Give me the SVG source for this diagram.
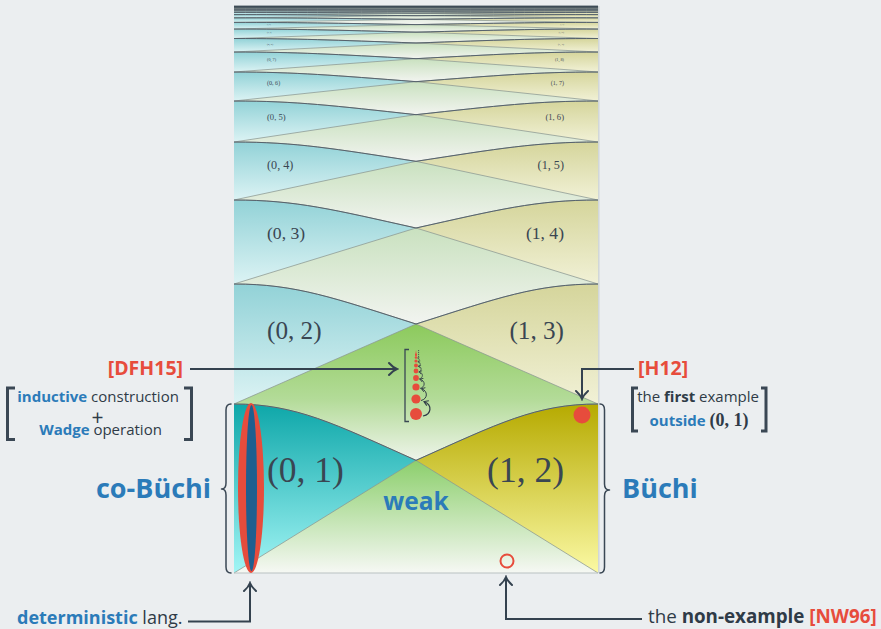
<svg xmlns="http://www.w3.org/2000/svg" width="881" height="629" viewBox="0 0 881 629">
<style>
.reg{stroke:#8b9792;stroke-width:0.75}
.curve{fill:none;stroke:#56626c;stroke-width:1}
.lbl{font-family:"Liberation Serif","DejaVu Serif",serif;fill:#3a4652}
.t{font-family:"Open Sans","Noto Sans",sans-serif;fill:#2f3b47}
.b{font-weight:700}
.math{font-family:"Liberation Serif","DejaVu Serif",serif;font-weight:700}
.blue{fill:#2b7bb9}
.red{fill:#e74c3c}
.conn{fill:none;stroke:#34424f;stroke-width:2}
.brk{fill:none;stroke:#3a4754;stroke-width:3}
.brace{fill:none;stroke:#3a4754;stroke-width:1.5;stroke-linecap:round;stroke-linejoin:round}
.mini{fill:none;stroke:#2f3b47}
</style>
<defs>
  <linearGradient id="cy1" x1="0" y1="0" x2="0" y2="1"><stop offset="0" stop-color="#0ea7a9"/><stop offset="1" stop-color="#a2f5f5"/></linearGradient>
  <linearGradient id="ye1" x1="0" y1="0" x2="0" y2="1"><stop offset="0" stop-color="#b6aa00"/><stop offset="1" stop-color="#fbf9a4"/></linearGradient>
  <linearGradient id="cy" x1="0" y1="0" x2="0" y2="1"><stop offset="0" stop-color="#92d2d7"/><stop offset="1" stop-color="#dcf3f4"/></linearGradient>
  <linearGradient id="ye" x1="0" y1="0" x2="0" y2="1"><stop offset="0" stop-color="#d5d59b"/><stop offset="1" stop-color="#f1f1d6"/></linearGradient>
  <linearGradient id="gr0" x1="0" y1="0" x2="0" y2="1"><stop offset="0" stop-color="#8ccf6c"/><stop offset="1" stop-color="#f6f8f4"/></linearGradient>
  <linearGradient id="gr1" x1="0" y1="0" x2="0" y2="1"><stop offset="0" stop-color="#8cca5c"/><stop offset="0.55" stop-color="#b3db98"/><stop offset="1" stop-color="#eef4ea"/></linearGradient>
  <linearGradient id="gr" x1="0" y1="0" x2="0" y2="1"><stop offset="0" stop-color="#c9e1bf"/><stop offset="1" stop-color="#f2f4f0"/></linearGradient>
  <marker id="tip" viewBox="-8 -8 12 16" refX="0" refY="0" markerWidth="12" markerHeight="16" markerUnits="userSpaceOnUse" orient="auto">
    <path d="M-6,-6 Q-2,-1.5 2,0 Q-2,1.5 -6,6" fill="none" stroke="#34424f" stroke-width="2" stroke-linecap="round"/>
  </marker>
  <marker id="mtip" viewBox="-4 -3 5 6" refX="0" refY="0" markerWidth="5" markerHeight="6" orient="auto">
    <path d="M-3,-2.2 L0.5,0 L-3,2.2" fill="none" stroke="#2f3b47" stroke-width="0.9"/>
  </marker>
  <!-- one storey of the tower: left lobe, open path (curve on top, straight line below) -->
  <path id="r1" d="M234,404C296,404 334,423.72 416,460.33L234,573"/>
  <path id="r2" d="M234,284C296,284 334,298 416,324L234,404"/>
  <path id="r3" d="M234,200C296,200 334,209.8 416,228L234,284"/>
  <path id="r4" d="M234,142C296,142 334,148.77 416,161.33L234,200"/>
  <path id="r5" d="M234,101C296,101 334,105.78 416,114.67L234,142"/>
  <path id="r6" d="M234,72C296,72 334,75.38 416,81.67L234,101"/>
  <path id="r7" d="M234,52C296,52 334,54.33 416,58.67L234,72"/>
  <path id="r8" d="M234,38.5C296,38.5 334,40.08 416,43L234,52"/>
  <path id="r9" d="M234,29C296,29 334,30.11 416,32.17L234,38.5"/>
  <path id="r10" d="M234,22.4C296,22.4 334,23.17 416,24.6L234,29"/>
  <path id="r11" d="M234,17.8C296,17.8 334,18.34 416,19.33L234,22.4"/>
  <path id="r12" d="M234,14.6C296,14.6 334,14.97 416,15.67L234,17.8"/>
  <path id="r13" d="M234,12.4C296,12.4 334,12.66 416,13.13L234,14.6"/>
  <path id="r14" d="M234,10.8C296,10.8 334,10.99 416,11.33L234,12.4"/>
  <path id="r15" d="M234,9.7C296,9.7 334,9.83 416,10.07L234,10.8"/>
  <path id="r16" d="M234,8.9C296,8.9 334,8.99 416,9.17L234,9.7"/>
  <path id="r17" d="M234,8.3C296,8.3 334,8.37 416,8.5L234,8.9"/>
  <path id="r18" d="M234,7.9C296,7.9 334,7.95 416,8.03L234,8.3"/>
  <path id="r19" d="M234,7.6C296,7.6 334,7.64 416,7.7L234,7.9"/>
  <!-- upper boundary curves of each storey -->
  <path id="c1" d="M234,404C296,404 334,423.72 416,460.33"/>
  <path id="c2" d="M234,284C296,284 334,298 416,324"/>
  <path id="c3" d="M234,200C296,200 334,209.8 416,228"/>
  <path id="c4" d="M234,142C296,142 334,148.77 416,161.33"/>
  <path id="c5" d="M234,101C296,101 334,105.78 416,114.67"/>
  <path id="c6" d="M234,72C296,72 334,75.38 416,81.67"/>
  <path id="c7" d="M234,52C296,52 334,54.33 416,58.67"/>
  <path id="c8" d="M234,38.5C296,38.5 334,40.08 416,43"/>
  <path id="c9" d="M234,29C296,29 334,30.11 416,32.17"/>
  <path id="c10" d="M234,22.4C296,22.4 334,23.17 416,24.6"/>
  <path id="c11" d="M234,17.8C296,17.8 334,18.34 416,19.33"/>
  <path id="c12" d="M234,14.6C296,14.6 334,14.97 416,15.67"/>
  <path id="c13" d="M234,12.4C296,12.4 334,12.66 416,13.13"/>
  <path id="c14" d="M234,10.8C296,10.8 334,10.99 416,11.33"/>
  <path id="c15" d="M234,9.7C296,9.7 334,9.83 416,10.07"/>
  <path id="c16" d="M234,8.9C296,8.9 334,8.99 416,9.17"/>
  <g id="curves-half">
    <use href="#c1"/><use href="#c2"/><use href="#c3"/><use href="#c4"/><use href="#c5"/><use href="#c6"/><use href="#c7"/><use href="#c8"/>
    <use href="#c9"/><use href="#c10"/><use href="#c11"/><use href="#c12"/><use href="#c13"/><use href="#c14"/><use href="#c15"/><use href="#c16"/>
  </g>
</defs>

<rect width="881" height="629" fill="#ebeef0"/>

<g id="tower">
  <g id="weak-bands">
    <rect x="234" y="460.33" width="364" height="112.67" fill="url(#gr0)"/>
    <rect x="234" y="324" width="364" height="136.33" fill="url(#gr1)"/>
    <rect x="234" y="228" width="364" height="96" fill="url(#gr)"/>
    <rect x="234" y="161.33" width="364" height="66.67" fill="url(#gr)"/>
    <rect x="234" y="114.67" width="364" height="46.66" fill="url(#gr)"/>
    <rect x="234" y="81.67" width="364" height="33" fill="url(#gr)"/>
    <rect x="234" y="58.67" width="364" height="23" fill="url(#gr)"/>
    <rect x="234" y="43" width="364" height="15.67" fill="url(#gr)"/>
    <rect x="234" y="32.17" width="364" height="10.83" fill="url(#gr)"/>
    <rect x="234" y="24.6" width="364" height="7.57" fill="url(#gr)"/>
    <rect x="234" y="6" width="364" height="18.6" fill="url(#gr)"/>
  </g>
  <g id="cobuchi-side">
    <use href="#r1" class="reg" fill="url(#cy1)"/>
    <use href="#r2" class="reg" fill="url(#cy)"/><use href="#r3" class="reg" fill="url(#cy)"/><use href="#r4" class="reg" fill="url(#cy)"/>
    <use href="#r5" class="reg" fill="url(#cy)"/><use href="#r6" class="reg" fill="url(#cy)"/><use href="#r7" class="reg" fill="url(#cy)"/>
    <use href="#r8" class="reg" fill="url(#cy)"/><use href="#r9" class="reg" fill="url(#cy)"/><use href="#r10" class="reg" fill="url(#cy)"/>
    <use href="#r11" class="reg" fill="url(#cy)"/><use href="#r12" class="reg" fill="url(#cy)"/><use href="#r13" class="reg" fill="url(#cy)"/>
    <use href="#r14" class="reg" fill="url(#cy)"/><use href="#r15" class="reg" fill="url(#cy)"/><use href="#r16" class="reg" fill="url(#cy)"/>
    <use href="#r17" class="reg" fill="url(#cy)"/><use href="#r18" class="reg" fill="url(#cy)"/><use href="#r19" class="reg" fill="url(#cy)"/>
  </g>
  <g id="buchi-side" transform="matrix(-1 0 0 1 832 0)">
    <use href="#r1" class="reg" fill="url(#ye1)"/>
    <use href="#r2" class="reg" fill="url(#ye)"/><use href="#r3" class="reg" fill="url(#ye)"/><use href="#r4" class="reg" fill="url(#ye)"/>
    <use href="#r5" class="reg" fill="url(#ye)"/><use href="#r6" class="reg" fill="url(#ye)"/><use href="#r7" class="reg" fill="url(#ye)"/>
    <use href="#r8" class="reg" fill="url(#ye)"/><use href="#r9" class="reg" fill="url(#ye)"/><use href="#r10" class="reg" fill="url(#ye)"/>
    <use href="#r11" class="reg" fill="url(#ye)"/><use href="#r12" class="reg" fill="url(#ye)"/><use href="#r13" class="reg" fill="url(#ye)"/>
    <use href="#r14" class="reg" fill="url(#ye)"/><use href="#r15" class="reg" fill="url(#ye)"/><use href="#r16" class="reg" fill="url(#ye)"/>
    <use href="#r17" class="reg" fill="url(#ye)"/><use href="#r18" class="reg" fill="url(#ye)"/><use href="#r19" class="reg" fill="url(#ye)"/>
  </g>
  <g id="storey-curves" class="curve">
    <use href="#curves-half"/>
    <use href="#curves-half" transform="matrix(-1 0 0 1 832 0)"/>
  </g>
  <rect x="234" y="5.6" width="364" height="2.2" fill="#3d4b56"/>
  <line x1="234" y1="573" x2="598" y2="573" stroke="#b9c1c1" stroke-width="1"/>
  <line x1="598.8" y1="6" x2="598.8" y2="573" stroke="#cfd4d5" stroke-width="1.4"/>
</g>

<g id="storey-labels" class="lbl">
  <text x="267" y="481.7" font-size="35.5">(0, 1)</text>
  <text x="564" y="481.7" font-size="35.5" text-anchor="end">(1, 2)</text>
  <text x="267" y="339.2" font-size="25.2">(0, 2)</text>
  <text x="564" y="339.2" font-size="25.2" text-anchor="end">(1, 3)</text>
  <text x="267" y="238.6" font-size="17.6">(0, 3)</text>
  <text x="564" y="238.6" font-size="17.6" text-anchor="end">(1, 4)</text>
  <text x="267" y="168.7" font-size="12.2">(0, 4)</text>
  <text x="564" y="168.7" font-size="12.2" text-anchor="end">(1, 5)</text>
  <text x="267" y="119.9" font-size="8.6">(0, 5)</text>
  <text x="564" y="119.9" font-size="8.6" text-anchor="end">(1, 6)</text>
  <text x="267" y="85.3" font-size="6.1">(0, 6)</text>
  <text x="564" y="85.3" font-size="6.1" text-anchor="end">(1, 7)</text>
  <text x="267" y="61.2" font-size="4.2">(0, 7)</text>
  <text x="564" y="61.2" font-size="4.2" text-anchor="end">(1, 8)</text>
  <text x="267" y="44.7" font-size="2.8">(0, 8)</text>
  <text x="564" y="44.7" font-size="2.8" text-anchor="end">(1, 9)</text>
  <text x="267" y="33.4" font-size="2">(0, 9)</text>
  <text x="564" y="33.4" font-size="2" text-anchor="end">(1, 10)</text>
  <text x="267" y="25.4" font-size="1.4">(0, 10)</text>
  <text x="564" y="25.4" font-size="1.4" text-anchor="end">(1, 11)</text>
</g>

<g id="weak-label"><text class="t b blue" x="416" y="510" font-size="24.5" text-anchor="middle">weak</text></g>

<g id="cobuchi"><text class="t b blue" x="211" y="498" font-size="27" text-anchor="end">co-Büchi</text>
  <path class="brace" d="M231,404 Q226,404 226,410 V483 Q226,489 221.5,489 Q226,489 226,495 V567 Q226,573 231,573"/></g>
<g id="buchi"><text class="t b blue" x="622" y="498" font-size="27">Büchi</text>
  <path class="brace" d="M600,404 Q604.5,404 604.5,410 V484 Q604.5,490 609.5,490 Q604.5,490 604.5,496 V567 Q604.5,573 600,573"/></g>

<g id="deterministic-set">
  <ellipse cx="251" cy="488" rx="13" ry="85" fill="#e74c3c"/>
  <ellipse cx="251.5" cy="488" rx="5.5" ry="83" fill="#1f5f8f"/>
</g>

<g id="wadge-sequence">
  <path d="M409,349.5 H405 V421.5 H409" fill="none" stroke="#3a4754" stroke-width="1.3"/>
  <g fill="#e74c3c">
    <circle cx="416" cy="414" r="6"/>
    <circle cx="416" cy="399" r="4.6"/>
    <circle cx="416" cy="387" r="3.6"/>
    <circle cx="416" cy="378" r="2.9"/>
    <circle cx="416" cy="371" r="2.4"/>
    <circle cx="416" cy="365.5" r="2"/>
    <circle cx="416" cy="361" r="1.6"/>
    <circle cx="416" cy="357.5" r="1.3"/>
    <circle cx="416" cy="354.5" r="1.05"/>
    <path d="M415.1,356 L416,350 L416.9,356 Z"/>
  </g>
  <path class="mini" stroke-width="1.2" d="M423,416 C432,414 432,405 424.5,401.8" marker-end="url(#mtip)"/>
  <path class="mini" stroke-width="1" d="M421,400.5 C428,399 428,391 421.8,388.8" marker-end="url(#mtip)"/>
  <path class="mini" stroke-width="0.9" d="M420,388.5 C425.5,387 425.5,381 420.3,379.3" marker-end="url(#mtip)"/>
  <path class="mini" stroke-width="0.8" d="M419,379 C423.5,378 423.5,373 419.3,371.8" marker-end="url(#mtip)"/>
  <path class="mini" stroke-width="0.7" d="M418.5,372 C422,371 422,367 418.7,366.2" marker-end="url(#mtip)"/>
  <path class="mini" stroke-width="0.6" d="M418,366.5 C421,366 421,362.5 418.2,361.7" marker-end="url(#mtip)"/>
  <path class="mini" stroke-width="0.5" d="M417.7,361.7 C420,361 420,358.5 417.8,358.1" marker-end="url(#mtip)"/>
  <line x1="418.6" y1="350" x2="418.6" y2="358" stroke="#2f3b47" stroke-width="0.8" stroke-dasharray="1.2 0.8"/>
</g>

<g id="first-example"><circle cx="582" cy="415" r="8.5" fill="#e74c3c"/></g>
<g id="non-example"><circle cx="507" cy="561" r="6.5" fill="none" stroke="#e74c3c" stroke-width="2"/></g>

<g id="note-construction" class="t" font-size="15" text-anchor="middle">
  <path class="brk" d="M15,388 H7.5 V439.5 H15"/>
  <path class="brk" d="M184,388 H191.5 V439.5 H184"/>
  <!-- three stacked lines kept in one text block -->
  <text>
    <tspan x="100" y="402"><tspan class="b blue">inductive</tspan> construction</tspan>
    <tspan x="99.5" y="424.5" font-size="21">+</tspan>
    <tspan x="100.5" y="435"><tspan class="b blue">Wadge</tspan> operation</tspan>
  </text>
</g>

<g id="note-first" class="t" font-size="15" text-anchor="middle">
  <path class="brk" stroke-width="2.6" d="M638,388 H632.5 V431 H638"/>
  <path class="brk" stroke-width="2.6" d="M761,388 H766 V431 H761"/>
  <text>
    <tspan x="700" y="402">the <tspan class="b">first</tspan> example</tspan>
    <tspan x="699" y="426"><tspan class="b blue">outside</tspan> <tspan class="math" font-size="18">(0, 1)</tspan></tspan>
  </text>
</g>

<g id="ref-dfh15"><text class="t b red" x="183" y="374.5" font-size="19.5" text-anchor="end">[DFH15]</text></g>
<g id="ref-h12"><text class="t b red" x="638" y="374.5" font-size="19.5">[H12]</text></g>
<g id="note-deterministic"><text class="t" x="17" y="624" font-size="18"><tspan class="b blue">deterministic</tspan> lang.</text></g>
<g id="note-nonexample"><text class="t" x="648" y="623" font-size="18.8">the <tspan class="b">non-example</tspan> <tspan class="b red">[NW96]</tspan></text></g>

<g id="connectors">
  <path class="conn" d="M190,369 H395" marker-end="url(#tip)"/>
  <path class="conn" d="M634,369 H582 V397" marker-end="url(#tip)"/>
  <path class="conn" d="M188,621.5 H250 V585" marker-end="url(#tip)"/>
  <path class="conn" d="M642,619 H506 V579" marker-end="url(#tip)"/>
</g>
</svg>
